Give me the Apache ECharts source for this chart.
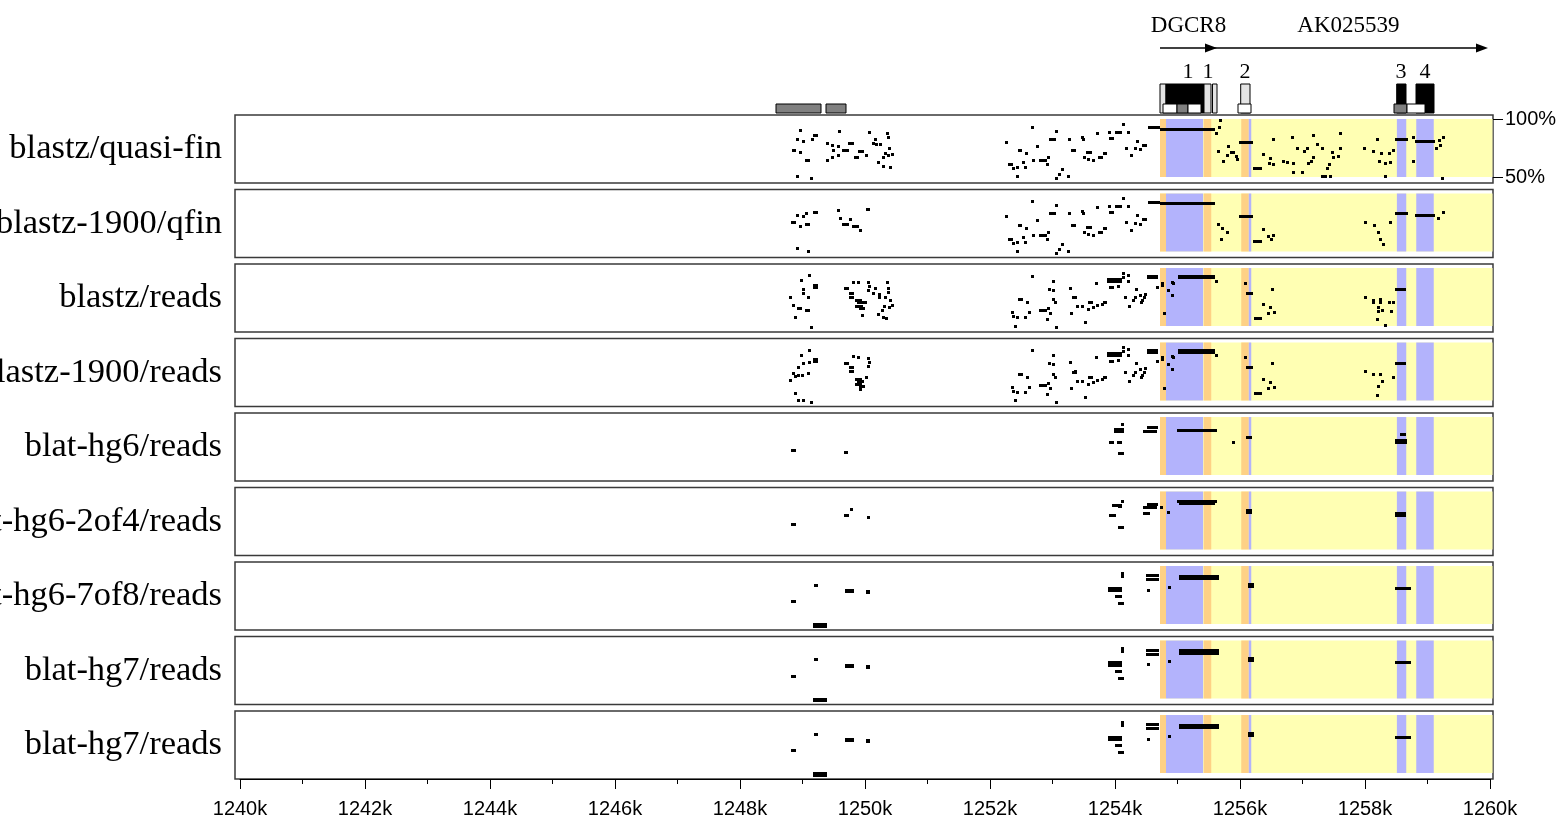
<!DOCTYPE html>
<html><head><meta charset="utf-8">
<script src="https://cdn.jsdelivr.net/npm/echarts@6/dist/echarts.min.js"></script>
<style>html,body{margin:0;padding:0;background:#fff}#c{width:1567px;height:822px}</style>
</head><body><div id="c"></div>
<script>
// ---------------- DATA ----------------
const panelNames = ['blastz/quasi-fin','blastz-1900/qfin','blastz/reads','blastz-1900/reads','blat-hg6/reads','blat-hg6-2of4/reads','blat-hg6-7of8/reads','blat-hg7/reads','blat-hg7/reads'];
const axisRangeKb = [1240, 1260];
const axisStepKb = 2;
const pctTicks = [50, 100];

// shaded annotation (kb)
const geneSpan = [1254.72, 1260.04];
const utrBands = [[1254.72,1254.816],[1255.42,1255.54],[1256.02,1256.14]];
const exonBands = [[1254.816,1255.41],[1256.14,1256.18],[1258.51,1258.66],[1258.82,1259.10]];

// gene track
const repeats = [[1248.576,1249.296],[1249.376,1249.696]];
const genes = [[1254.72,1255.632],[1255.5,1259.968]];
const geneNames = ['DGCR8','AK025539'];
const exonBoxes = [[1254.72,1254.816],[1254.816,1255.424],[1255.424,1255.536],[1255.56,1255.632],[1256.011,1256.16],[1258.507,1258.656],[1258.816,1259.104]];
const exonKinds = ['utr','cds','utr','utr','utr','cds','cds'];
const featureBoxes = [[1254.768,1254.992],[1254.992,1255.168],[1255.168,1255.376],[1255.968,1256.176],[1258.464,1258.672],[1258.672,1258.96]];
const featureKinds = ['light','dark','light','light','dark','light'];
const exonNumberPos = [1255.168,1255.488,1256.08,1258.576,1258.96];
const exonNumberText = ['1','1','2','3','4'];

// alignments: [start kb, end kb, % identity]
const qfinLeft1 = [
[1248.96,1248.96,90.3],[1248.912,1248.912,82.6],[1249.008,1249.008,80.9],[1249.168,1249.248,85.4],[1249.168,1249.168,82.6],
[1248.832,1248.896,72.5],[1248.96,1248.96,70.8],[1249.04,1249.12,64.0],[1248.912,1248.912,50.4],[1249.136,1249.136,48.7],
[1249.584,1249.584,89.4],[1249.408,1249.408,79.2],[1249.472,1249.472,77.5],[1249.552,1249.6,76.7],[1249.728,1249.824,79.2],
[1249.632,1249.744,72.5],[1249.488,1249.488,72.5],[1249.568,1249.568,68.2],[1249.472,1249.472,66.5],[1249.392,1249.392,64.0],
[1249.824,1249.904,66.5],[1249.888,1249.984,71.6],[1250.016,1250.016,68.2],[1250.064,1250.064,88.6],[1250.16,1250.16,82.6],
[1250.176,1250.176,78.4],[1250.128,1250.128,79.2],[1250.24,1250.24,78.4],[1250.352,1250.352,87.7],[1250.368,1250.368,84.3],
[1250.384,1250.384,75.0],[1250.32,1250.32,69.9],[1250.288,1250.288,66.5],[1250.368,1250.368,68.2],[1250.432,1250.432,69.1],
[1250.208,1250.208,62.3],[1250.288,1250.288,58.9],[1250.4,1250.4,58.0]
];
const qfinLeft2 = [
[1249.056,1249.056,83.1],[1249.168,1249.248,83.9],[1248.912,1248.912,81.4],[1249.008,1249.008,80.5],[1248.816,1248.896,74.6],
[1248.96,1248.96,71.2],[1249.04,1249.12,73.7],[1248.912,1248.912,52.5],[1249.088,1249.088,50.0],[1249.568,1249.568,85.6],
[1249.6,1249.6,78.8],[1249.632,1249.744,72.9],[1249.792,1249.904,71.2],[1249.92,1249.92,67.8],[1250.016,1250.08,86.4],
[1249.76,1249.76,78.0]
];
const qfinMid = [
[1252.256,1252.256,80.1],[1252.672,1252.672,92.8],[1252.448,1252.512,72.5],[1252.288,1252.368,60.6],[1252.368,1252.368,57.2],
[1252.432,1252.432,58.0],[1252.576,1252.576,69.9],[1252.56,1252.56,58.0],[1252.528,1252.528,62.3],[1252.672,1252.72,64.0],
[1252.784,1252.912,64.0],[1252.928,1252.928,66.5],[1252.912,1252.912,60.6],[1252.96,1252.96,82.6],[1252.992,1253.056,82.6],
[1253.072,1253.072,89.4],[1252.752,1252.752,76.7],[1253.152,1253.152,56.4],[1253.104,1253.104,52.1],[1253.248,1253.248,50.4],
[1253.296,1253.376,72.5],[1253.264,1253.264,82.6],[1253.472,1253.472,84.3],[1253.488,1253.488,82.6],[1253.536,1253.632,70.8],
[1253.504,1253.504,66.5],[1253.568,1253.568,64.8],[1253.648,1253.648,64.0],[1253.728,1253.76,66.5],[1253.808,1253.872,69.9],
[1253.776,1253.776,66.5],[1253.712,1253.712,87.7],[1253.904,1253.904,88.6],[1253.904,1253.984,83.5],[1254.0,1254.112,88.6],
[1254.128,1254.128,95.3],[1254.208,1254.208,88.6],[1254.176,1254.176,75.0],[1254.32,1254.32,74.2],[1254.352,1254.352,80.9],
[1254.4,1254.4,73.3],[1254.432,1254.512,77.5],[1254.256,1254.256,68.2],[1254.528,1254.72,92.4],[1253.056,1253.056,48.7],
[1252.432,1252.432,50.4]
];
const qfinGene1 = [
[1254.72,1255.6,91.1],[1255.68,1255.68,98.7],[1255.664,1255.664,92.8],[1255.616,1255.616,87.7],[1255.808,1255.808,76.7],
[1255.84,1255.92,70.8],[1255.648,1255.648,71.6],[1255.728,1255.728,63.1],[1255.792,1255.792,68.2],[1255.952,1255.952,64.8],
[1255.936,1255.936,67.4],[1255.984,1256.208,80.1],[1256.208,1256.352,57.2],[1256.368,1256.368,69.1],[1256.48,1256.48,65.6],
[1256.464,1256.464,61.4],[1256.528,1256.528,60.6],[1256.528,1256.528,82.6],[1256.832,1256.832,84.3],[1256.912,1256.912,75.0],
[1257.024,1257.024,71.6],[1257.072,1257.072,74.2],[1256.688,1256.688,63.1],[1256.752,1256.752,62.3],[1256.848,1256.848,61.4],
[1256.848,1256.848,53.8],[1256.992,1256.992,53.8],[1257.168,1257.168,66.5],[1257.136,1257.136,63.1],[1257.088,1257.088,61.4],
[1257.168,1257.168,85.4],[1257.232,1257.232,78.4],[1257.312,1257.312,74.2],[1257.392,1257.392,57.2],[1257.424,1257.424,60.6],
[1257.488,1257.488,66.5],[1257.472,1257.472,70.8],[1257.568,1257.568,67.4],[1257.6,1257.6,74.2],[1257.6,1257.6,87.7],
[1257.312,1257.312,50.4],[1257.36,1257.36,50.4],[1257.44,1257.44,50.4],[1257.984,1257.984,75.0],[1258.128,1258.128,71.6],
[1258.192,1258.192,82.6],[1258.256,1258.256,69.9],[1258.224,1258.224,63.1],[1258.32,1258.32,61.4],[1258.4,1258.4,62.3],
[1258.384,1258.384,69.9],[1258.448,1258.448,72.5],[1258.32,1258.32,50.4],[1258.48,1258.688,82.6],[1258.768,1258.768,84.3],
[1258.768,1258.768,63.1],[1258.8,1259.12,80.9],[1259.184,1259.184,81.7],[1259.248,1259.248,84.3],[1259.136,1259.136,75.0],
[1259.2,1259.2,77.5],[1259.232,1259.232,48.7]
];
const qfinGene2 = [
[1254.72,1255.6,91.5],[1255.648,1255.648,72.9],[1255.712,1255.712,69.5],[1255.792,1255.792,66.1],[1255.696,1255.696,60.2],
[1255.984,1256.208,80.5],[1256.208,1256.352,58.5],[1256.368,1256.368,68.6],[1256.448,1256.448,62.7],[1256.496,1256.496,60.2],
[1256.528,1256.528,63.6],[1258.0,1258.0,75.4],[1258.144,1258.144,72.0],[1258.208,1258.208,66.1],[1258.24,1258.24,60.2],
[1258.288,1258.288,55.9],[1258.4,1258.4,75.4],[1258.48,1258.688,83.0],[1258.8,1259.12,81.4],[1259.168,1259.168,78.8],
[1259.248,1259.248,83.9]
];
const readsLeft3 = [
[1249.104,1249.104,93.6],[1248.976,1248.976,89.4],[1249.168,1249.248,85.2],[1249.168,1249.248,83.5],[1249.008,1249.008,81.8],
[1249.008,1249.008,78.4],[1249.088,1249.088,74.2],[1248.8,1248.8,74.2],[1248.848,1248.848,67.4],[1248.928,1248.928,64.8],
[1248.96,1248.96,64.8],[1249.04,1249.12,63.1],[1248.88,1248.88,57.2],[1249.136,1249.136,48.7],[1249.664,1249.744,82.6],
[1249.808,1249.808,87.7],[1249.744,1249.824,78.4],[1249.744,1249.824,74.2],[1249.888,1249.888,87.7],[1250.048,1250.048,87.7],
[1250.064,1250.064,84.3],[1250.048,1250.048,80.9],[1249.84,1249.95,71.6],[1249.87,1250.03,69.9],[1249.84,1249.97,66.5],
[1249.9,1250.0,64.8],[1249.952,1249.952,58.9],[1250.16,1250.16,82.6],[1250.128,1250.128,78.4],[1250.224,1250.224,77.5],
[1250.224,1250.224,74.2],[1250.352,1250.352,87.7],[1250.368,1250.368,82.6],[1250.368,1250.368,79.2],[1250.32,1250.32,74.2],
[1250.4,1250.4,71.6],[1250.432,1250.432,68.0],[1250.384,1250.384,65.7],[1250.304,1250.304,67.0],[1250.272,1250.272,63.0],
[1250.208,1250.208,59.7],[1250.288,1250.288,57.2],[1250.336,1250.336,56.4]
];
const readsLeft4 = [
[1249.104,1249.104,93.2],[1248.976,1248.976,89.0],[1249.168,1249.248,85.5],[1249.168,1249.248,83.9],[1249.12,1249.12,83.0],
[1249.008,1249.008,82.2],[1248.928,1248.928,78.8],[1248.848,1248.848,73.7],[1248.88,1248.88,70.3],[1248.928,1248.928,71.2],
[1248.992,1248.992,71.2],[1249.088,1249.088,73.7],[1248.8,1248.8,67.0],[1248.88,1248.88,55.9],[1248.928,1248.928,50.0],
[1249.008,1249.008,50.0],[1249.136,1249.136,48.3],[1249.664,1249.744,82.2],[1249.744,1249.824,78.8],[1249.744,1249.824,74.6],
[1249.808,1249.808,88.1],[1249.888,1249.888,87.3],[1250.048,1250.048,86.4],[1250.064,1250.064,83.0],[1250.048,1250.048,79.7],
[1249.84,1249.95,67.8],[1249.87,1249.98,66.1],[1249.84,1249.95,63.6],[1249.9,1250.0,61.9],[1249.92,1249.92,59.3],
[1250.016,1250.016,69.5]
];
const readsMid = [
[1252.672,1252.672,92.8],[1253.008,1253.008,88.6],[1252.944,1252.944,81.8],[1253.008,1253.008,80.9],[1252.448,1252.528,72.5],
[1252.592,1252.592,69.9],[1252.352,1252.352,61.4],[1252.368,1252.368,58.0],[1252.432,1252.432,57.2],[1252.56,1252.56,57.2],
[1252.624,1252.624,61.4],[1252.784,1252.912,63.1],[1252.928,1252.928,64.8],[1252.96,1252.96,60.6],[1252.912,1252.912,55.5],
[1253.008,1253.008,72.5],[1253.04,1253.04,69.9],[1252.4,1252.4,49.6],[1253.056,1253.056,48.7],[1253.28,1253.28,82.6],
[1253.312,1253.392,74.2],[1253.36,1253.36,75.0],[1253.296,1253.296,60.6],[1253.392,1253.392,66.5],[1253.472,1253.472,66.5],
[1253.52,1253.52,53.0],[1253.568,1253.648,69.9],[1253.568,1253.568,64.0],[1253.648,1253.648,65.7],[1253.712,1253.712,67.4],
[1253.792,1253.792,68.2],[1253.808,1253.872,69.9],[1253.696,1253.696,86.9],[1253.872,1254.112,90.2],[1253.872,1254.112,88.6],
[1253.904,1253.984,83.5],[1254.048,1254.048,84.3],[1254.128,1254.128,95.3],[1254.128,1254.128,92.0],[1254.208,1254.208,93.6],
[1254.208,1254.208,88.6],[1254.336,1254.336,81.8],[1254.16,1254.16,74.2],[1254.224,1254.224,66.5],[1254.288,1254.288,71.6],
[1254.32,1254.32,74.2],[1254.4,1254.4,76.7],[1254.464,1254.464,74.2],[1254.432,1254.432,71.6],[1254.416,1254.416,69.9],
[1254.48,1254.48,77.5],[1254.512,1254.688,92.8],[1254.512,1254.688,91.5],[1254.672,1254.672,83.5]
];
const readsGene = [
[1254.752,1254.752,86.9],[1254.736,1254.784,85.2],[1254.848,1254.848,81.0],[1254.912,1254.912,87.7],[1254.928,1254.928,86.9],
[1254.912,1254.912,76.7],[1254.784,1254.784,60.6],[1255.008,1255.6,92.8],[1255.008,1255.6,91.5],[1255.616,1255.616,88.6],
[1256.08,1256.08,86.9],[1256.096,1256.208,78.4],[1256.512,1256.512,81.8],[1256.368,1256.368,68.2],[1256.48,1256.48,65.7],
[1256.448,1256.448,60.6],[1256.544,1256.544,61.4],[1256.224,1256.352,56.4]
];
const readsTail3 = [
[1258.0,1258.0,74.2],[1258.128,1258.128,71.6],[1258.128,1258.128,70.0],[1258.24,1258.24,72.5],[1258.24,1258.24,69.9],
[1258.208,1258.208,65.7],[1258.272,1258.272,63.1],[1258.208,1258.208,62.3],[1258.384,1258.384,69.9],[1258.448,1258.448,69.9],
[1258.416,1258.416,62.3],[1258.192,1258.192,55.5],[1258.32,1258.32,50.4],[1258.48,1258.656,81.8]
];
const readsTail4 = [
[1258.0,1258.0,75.4],[1258.128,1258.128,72.0],[1258.24,1258.24,72.0],[1258.272,1258.272,66.1],[1258.208,1258.208,61.9],
[1258.448,1258.448,69.5],[1258.192,1258.192,54.2],[1258.48,1258.656,82.2]
];
const blat5 = [
[1248.816,1248.896,70.8],[1249.664,1249.728,69.1],[1254.112,1254.112,93.6],[1253.984,1254.144,89.4],[1253.984,1254.144,87.9],
[1253.904,1253.984,78.4],[1254.032,1254.112,78.4],[1254.048,1254.144,68.2],[1254.512,1254.688,91.1],[1254.448,1254.672,87.7],
[1254.992,1255.632,88.6],[1255.888,1255.888,78.4],[1256.096,1256.192,82.6],[1258.56,1258.656,85.2],[1258.48,1258.672,79.9],
[1258.48,1258.672,78.4]
];
const blat6 = [
[1248.816,1248.896,71.2],[1249.664,1249.744,79.7],[1249.776,1249.776,84.7],[1250.048,1250.048,78.0],[1254.096,1254.144,91.5],
[1253.952,1254.112,88.1],[1254.048,1254.112,87.3],[1253.904,1254.016,79.7],[1254.048,1254.144,68.6],[1254.512,1254.688,88.9],
[1254.448,1254.672,86.4],[1254.448,1254.56,81.4],[1254.736,1254.736,86.4],[1254.848,1254.848,82.2],[1254.992,1255.632,91.5],
[1255.024,1255.6,89.8],[1256.096,1256.192,83.9],[1256.096,1256.192,82.2],[1258.48,1258.656,80.8],[1258.48,1258.656,79.7]
];
const blatHg7 = [
[1248.816,1248.896,69.1],[1249.184,1249.248,83.5],[1249.168,1249.392,49.2],[1249.168,1249.392,48.0],[1249.68,1249.824,78.8],
[1249.68,1249.824,77.6],[1250.016,1250.08,78.0],[1250.016,1250.08,76.8],[1254.112,1254.112,93.2],[1254.112,1254.112,90.8],
[1253.888,1254.112,81.0],[1253.888,1254.112,78.6],[1254.0,1254.112,73.3],[1254.048,1254.144,67.4],[1254.496,1254.704,91.5],
[1254.496,1254.704,88.1],[1254.528,1254.528,79.2],[1254.864,1254.864,81.8],[1255.024,1255.664,91.1],[1255.024,1255.664,89.2],
[1256.128,1256.224,84.3],[1256.128,1256.224,82.7],[1258.48,1258.736,80.9]
];
const panelData = [
  qfinLeft1.concat(qfinMid, qfinGene1),
  qfinLeft2.concat(qfinMid, qfinGene2),
  readsLeft3.concat(readsMid, readsGene, readsTail3),
  readsLeft4.concat(readsMid, readsGene, readsTail4),
  blat5, blat6, blatHg7, blatHg7, blatHg7
];

// ---------------- LAYOUT / STYLE ----------------
const C = {yellow:'#FFFFB3', blue:'#B3B3FC', orange:'#FED185', light:'#E4E4E4', dark:'#808080'};
const PX_PER_KB = 62.5, AXIS_LEFT = 240;
const PANEL_LEFT = 235, PANEL_W = 1258, PANEL_H = 68;
const xMin = axisRangeKb[0] - (AXIS_LEFT - PANEL_LEFT) / PX_PER_KB;
const xMax = axisRangeKb[0] + (PANEL_LEFT + PANEL_W - AXIS_LEFT) / PX_PER_KB;
const panelTops = panelNames.map((_, i) => 115 + i * 74.5);
const yMin = 50 - 6 / 1.16, yMax = 100 + 4 / 1.16;
const ROW = {name:26, arrow:48, num:72, exonTop:84, featTop:104, bottom:113};

function dotRender(params, api) {
  const a = api.coord([api.value(0), api.value(2)]);
  const b = api.coord([api.value(1), api.value(2)]);
  let x0 = a[0], w = b[0] - a[0];
  if (w < 3) { x0 = (a[0] + b[0]) / 2 - 1.5; w = 3; }
  return {type:'rect', shape:{x:Math.round(x0), y:Math.round(a[1] - 1.5), width:Math.round(w), height:3}, style:{fill:'#000'}};
}
function bandRender(color) {
  return function (params, api) {
    const a = api.coord([api.value(0), 100]);
    const b = api.coord([api.value(1), 50]);
    return {type:'rect', shape:{x:a[0], y:a[1], width:b[0] - a[0], height:b[1] - a[1]}, style:{fill:color}};
  };
}

const gridBase = {outerBoundsMode:'none', containLabel:false};
const grid = [], xAxis = [], yAxis = [], series = [];
panelTops.forEach((t, i) => {
  grid.push(Object.assign({left:PANEL_LEFT, width:PANEL_W, top:t, height:PANEL_H, show:true, borderColor:'#3a3a3a', borderWidth:1.5, backgroundColor:'rgba(0,0,0,0)'}, gridBase));
  xAxis.push({type:'value', gridIndex:i, min:xMin, max:xMax, show:false});
  yAxis.push({type:'value', gridIndex:i, min:yMin, max:yMax, name:panelNames[i], nameLocation:'middle', nameRotate:0, nameGap:13,
    nameTextStyle:{align:'right', verticalAlign:'middle', fontSize:34.5, fontFamily:'Liberation Serif', color:'#000'},
    axisLine:{show:false}, axisTick:{show:false}, axisLabel:{show:false}, splitLine:{show:false}});
  series.push({type:'custom', xAxisIndex:i, yAxisIndex:i, silent:true, z:1, clip:true, data:[geneSpan], encode:{x:[0,1]}, renderItem:bandRender(C.yellow)});
  series.push({type:'custom', xAxisIndex:i, yAxisIndex:i, silent:true, z:2, clip:true, data:utrBands, encode:{x:[0,1]}, renderItem:bandRender(C.orange)});
  series.push({type:'custom', xAxisIndex:i, yAxisIndex:i, silent:true, z:2, clip:true, data:exonBands, encode:{x:[0,1]}, renderItem:bandRender(C.blue)});
  series.push({type:'custom', xAxisIndex:i, yAxisIndex:i, silent:true, z:3, clip:true, data:panelData[i], encode:{x:[0,1], y:2}, renderItem:dotRender});
});
// right % axis on first panel
yAxis.push({type:'value', gridIndex:0, position:'right', min:yMin, max:yMax, axisLine:{show:false},
  axisTick:{show:true, customValues:pctTicks, length:10, lineStyle:{color:'#000', width:1}},
  axisLabel:{customValues:pctTicks, formatter:'{value}%', fontSize:20, fontFamily:'Liberation Sans', color:'#000', margin:12},
  splitLine:{show:false}});

// gene track
const gi = grid.length;
grid.push(Object.assign({left:PANEL_LEFT, width:PANEL_W, top:0, height:115, show:false}, gridBase));
xAxis.push({type:'value', gridIndex:gi, min:xMin, max:xMax, show:false});
const gy = yAxis.length;
yAxis.push({type:'value', gridIndex:gi, min:0, max:115, inverse:true, show:false});
const gix = xAxis.length - 1;
function boxRender(top, bottom, fillFn) {
  return function (params, api) {
    const a = api.coord([api.value(0), top]);
    const b = api.coord([api.value(1), bottom]);
    return {type:'rect', shape:{x:a[0], y:a[1], width:b[0] - a[0], height:b[1] - a[1]}, style:{fill:fillFn(params.dataIndex), stroke:'#000', lineWidth:1}};
  };
}
series.push({type:'custom', xAxisIndex:gix, yAxisIndex:gy, silent:true, data:repeats, encode:{x:[0,1]},
  renderItem:boxRender(ROW.featTop, ROW.bottom, () => C.dark)});
series.push({type:'custom', xAxisIndex:gix, yAxisIndex:gy, silent:true, data:exonBoxes, encode:{x:[0,1]},
  renderItem:boxRender(ROW.exonTop, ROW.bottom, i => exonKinds[i] === 'cds' ? '#000' : C.light)});
series.push({type:'custom', xAxisIndex:gix, yAxisIndex:gy, silent:true, z:3, data:featureBoxes, encode:{x:[0,1]},
  renderItem:boxRender(ROW.featTop, ROW.bottom, i => featureKinds[i] === 'dark' ? C.dark : '#fff')});
series.push({type:'custom', xAxisIndex:gix, yAxisIndex:gy, silent:true, data:genes, encode:{x:[0,1]},
  renderItem:function (params, api) {
    const a = api.coord([api.value(0), ROW.arrow]);
    const b = api.coord([api.value(1), ROW.arrow]);
    const n = api.coord([(api.value(0) + api.value(1)) / 2, ROW.name]);
    return {type:'group', children:[
      {type:'line', shape:{x1:a[0], y1:a[1], x2:b[0] - 6, y2:b[1]}, style:{stroke:'#000', lineWidth:1.3}},
      {type:'polygon', shape:{points:[[b[0], b[1]], [b[0] - 12, b[1] - 4.5], [b[0] - 12, b[1] + 4.5]]}, style:{fill:'#000'}},
      {type:'text', style:{text:geneNames[params.dataIndex], x:n[0], y:n[1], align:'center', verticalAlign:'middle', font:'23px "Liberation Serif"', fill:'#000'}}
    ]};
  }});
series.push({type:'custom', xAxisIndex:gix, yAxisIndex:gy, silent:true, data:exonNumberPos.map(v => [v]), encode:{x:0},
  renderItem:function (params, api) {
    const p = api.coord([api.value(0), ROW.num]);
    return {type:'text', style:{text:exonNumberText[params.dataIndex], x:p[0], y:p[1], align:'center', verticalAlign:'middle', font:'22px "Liberation Serif"', fill:'#000'}};
  }});

// bottom axis
const bi = grid.length;
grid.push(Object.assign({left:AXIS_LEFT, width:(axisRangeKb[1] - axisRangeKb[0]) * PX_PER_KB, top:778, height:1, show:false}, gridBase));
xAxis.push({type:'value', gridIndex:bi, min:axisRangeKb[0], max:axisRangeKb[1], interval:axisStepKb, position:'bottom',
  axisLine:{show:true, lineStyle:{color:'#000', width:1}},
  axisTick:{show:true, length:10, lineStyle:{color:'#000'}},
  minorTick:{show:true, splitNumber:2, length:5, lineStyle:{color:'#000'}},
  axisLabel:{formatter:v => v + 'k', fontSize:20, fontFamily:'Liberation Sans', color:'#000', margin:20},
  splitLine:{show:false}});
yAxis.push({type:'value', gridIndex:bi, show:false});

const chart = echarts.init(document.getElementById('c'), null, {renderer:'canvas'});
chart.setOption({animation:false, backgroundColor:'#fff', grid, xAxis, yAxis, series});
</script></body></html>
